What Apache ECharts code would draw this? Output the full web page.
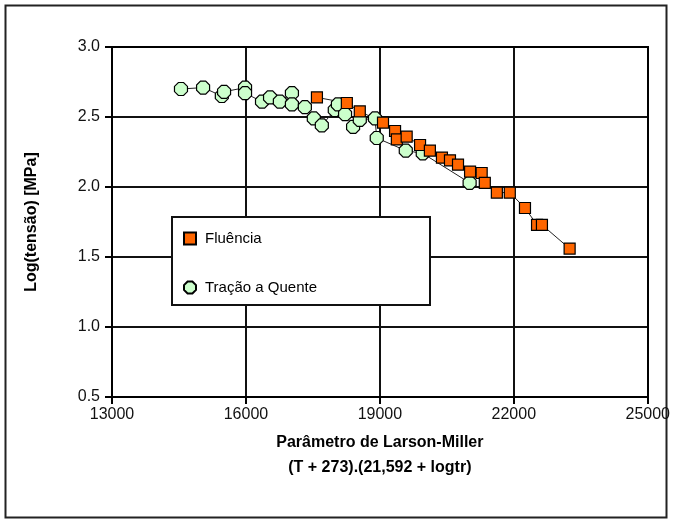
<!DOCTYPE html>
<html>
<head>
<meta charset="utf-8">
<script src="https://cdn.jsdelivr.net/npm/echarts@6/dist/echarts.min.js"></script>
<style>
html,body{margin:0;padding:0;background:#fff;}
#chart{width:673px;height:523px;}
</style>
</head>
<body>
<div id="chart"></div>
<script>
// Fluência (creep) data: Larson-Miller parameter, log(stress)
const fluenciaX = [17590, 18260, 18550, 19070, 19340, 19380, 19600, 19900, 20120, 20390, 20570, 20750, 21020, 21280, 21350, 21620, 21910, 22250, 22520, 22630, 23250];
const fluenciaY = [2.64, 2.60, 2.54, 2.46, 2.40, 2.34, 2.36, 2.30, 2.26, 2.21, 2.19, 2.16, 2.11, 2.10, 2.03, 1.96, 1.96, 1.85, 1.73, 1.73, 1.56];
// Tração a Quente (hot tensile) data
const tracaoX = [14545, 15040, 15460, 15510, 15980, 15980, 16360, 16540, 16760, 17030, 17030, 17320, 17520, 17700, 17990, 18060, 18220, 18400, 18550, 18890, 18930, 19580, 19960, 21010];
const tracaoY = [2.70, 2.71, 2.65, 2.68, 2.71, 2.67, 2.61, 2.64, 2.61, 2.67, 2.59, 2.57, 2.49, 2.44, 2.55, 2.59, 2.52, 2.43, 2.48, 2.49, 2.35, 2.26, 2.24, 2.03];
const xTicks = [13000, 16000, 19000, 22000, 25000];
const yTicks = [0.5, 1.0, 1.5, 2.0, 2.5, 3.0];

const seriesNames = ['Fluência', 'Tração a Quente'];
const octagon = 'path://M30,0 L70,0 L100,30 L100,70 L70,100 L30,100 L0,70 L0,30 Z';

const chart = echarts.init(document.getElementById('chart'), null, {renderer: 'canvas'});
const font = '"Liberation Sans", Arial, sans-serif';

chart.setOption({
  animation: false,
  backgroundColor: '#fff',
  grid: {left: 112, right: 25, top: 47, bottom: 126, show: false},
  xAxis: {
    type: 'value', min: xTicks[0], max: xTicks[xTicks.length - 1], interval: 3000,
    axisLine: {show: true, onZero: false, lineStyle: {color: '#000', width: 2}},
    axisTick: {show: true, length: 7, lineStyle: {color: '#000', width: 2}},
    splitLine: {show: true, lineStyle: {color: '#111', width: 2}},
    axisLabel: {color: '#111', fontFamily: font, fontSize: 16, margin: 10, formatter: v => String(v)},
    name: 'Parâmetro de Larson-Miller\n(T + 273).(21,592 + logtr)',
    nameLocation: 'middle', nameGap: 33,
    nameTextStyle: {color: '#000', fontFamily: font, fontSize: 16, fontWeight: 'bold', lineHeight: 25}
  },
  yAxis: {
    type: 'value', min: yTicks[0], max: yTicks[yTicks.length - 1], interval: 0.5,
    axisLine: {show: true, onZero: false, lineStyle: {color: '#000', width: 2}},
    axisTick: {show: true, length: 7, lineStyle: {color: '#000', width: 2}},
    splitLine: {show: true, lineStyle: {color: '#111', width: 2}},
    axisLabel: {color: '#111', fontFamily: font, fontSize: 16, margin: 12, formatter: v => v.toFixed(1)},
    name: 'Log(tensão) [MPa]',
    nameLocation: 'middle', nameGap: 72, nameRotate: 90,
    nameTextStyle: {color: '#000', fontFamily: font, fontSize: 16, fontWeight: 'bold'}
  },
  graphic: [
    {type: 'rect', z: 0, silent: true, shape: {x: 5.5, y: 5.5, width: 661, height: 512},
     style: {fill: 'none', stroke: '#222', lineWidth: 2}},
    {type: 'rect', z: 10, silent: true, shape: {x: 172, y: 217, width: 258, height: 88},
     style: {fill: '#fff', stroke: '#111', lineWidth: 2}},
    {type: 'rect', z: 10, silent: true, shape: {x: 112, y: 47, width: 536, height: 350},
     style: {fill: 'none', stroke: '#000', lineWidth: 2}}
  ],
  legend: {
    z: 20, orient: 'vertical', left: 178, top: 226, itemGap: 34, itemWidth: 12, itemHeight: 12,
    textStyle: {color: '#000', fontFamily: font, fontSize: 15, padding: [0, 0, 0, 4]},
    data: [{name: seriesNames[0], icon: 'rect'}, {name: seriesNames[1], icon: octagon}]
  },
  series: [
    {
      name: seriesNames[1], type: 'scatter', z: 3,
      data: tracaoX.map((x, i) => [x, tracaoY[i]]),
      symbol: octagon, symbolSize: 13,
      itemStyle: {color: '#ccffcc', borderColor: '#000', borderWidth: 1.2, opacity: 1}
    },
    {
      name: seriesNames[1] + ' linha', type: 'line', z: 2, silent: true, legendHoverLink: false,
      data: tracaoX.map((x, i) => [x, tracaoY[i]]), showSymbol: false,
      lineStyle: {color: '#222', width: 1}
    },
    {
      name: seriesNames[0], type: 'scatter', z: 4,
      data: fluenciaX.map((x, i) => [x, fluenciaY[i]]),
      symbol: 'rect', symbolSize: 11,
      itemStyle: {color: '#ff6600', borderColor: '#000', borderWidth: 1.2, opacity: 1}
    },
    {
      name: seriesNames[0] + ' linha', type: 'line', z: 2, silent: true,
      data: fluenciaX.map((x, i) => [x, fluenciaY[i]]), showSymbol: false,
      lineStyle: {color: '#222', width: 1}
    }
  ]
});
</script>
</body>
</html>
